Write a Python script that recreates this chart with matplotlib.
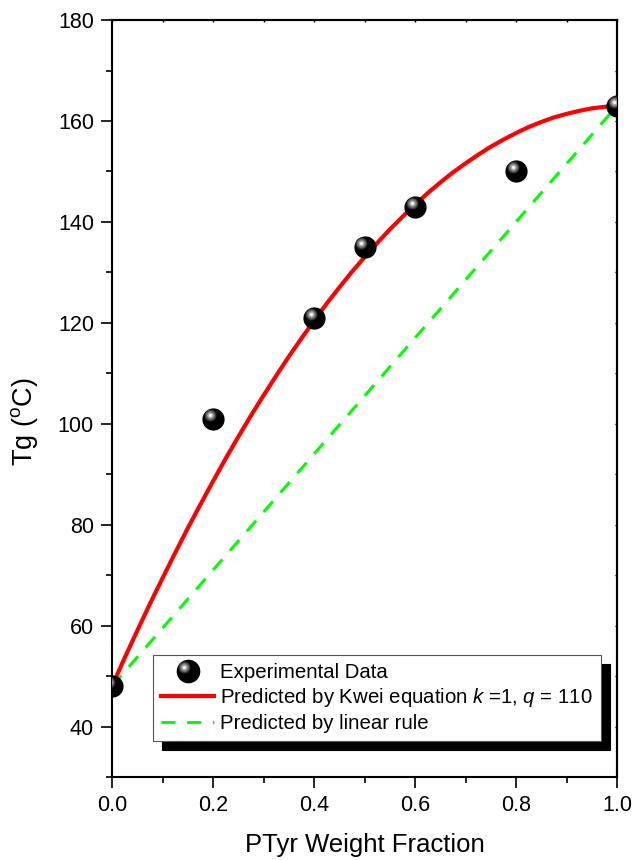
import numpy as np
import matplotlib
matplotlib.use("Agg")
import matplotlib.pyplot as plt
from matplotlib.lines import Line2D
from matplotlib.patches import Polygon
from matplotlib.legend_handler import HandlerBase
from matplotlib.transforms import ScaledTranslation
from matplotlib.ticker import MultipleLocator, FormatStrFormatter

plt.rcParams['font.family'] = ['Liberation Sans', 'DejaVu Sans']
plt.rcParams['mathtext.fontset'] = 'custom'
plt.rcParams['mathtext.rm'] = 'Liberation Sans'
plt.rcParams['mathtext.it'] = 'Liberation Sans:italic'

# Experimental data
exp_w = [0.0, 0.2, 0.4, 0.5, 0.6, 0.8, 1.0]
exp_tg = [48, 101, 121, 135, 143, 150, 163]

# Kwei prediction curve
kwei_w = [0.0, 0.025, 0.05, 0.075, 0.1, 0.125, 0.15, 0.175, 0.2, 0.225, 0.25,
          0.275, 0.3, 0.325, 0.35, 0.375, 0.4, 0.425, 0.45, 0.475, 0.5,
          0.525, 0.55, 0.575, 0.6, 0.625, 0.65, 0.675, 0.7, 0.725, 0.75,
          0.775, 0.8, 0.825, 0.85, 0.875, 0.9, 0.925, 0.95, 0.975, 1.0]
kwei_tg = [48.0, 53.6, 59.0, 64.3, 69.4, 74.4, 79.3, 84.0, 88.6, 93.1, 97.4,
           101.6, 105.6, 109.5, 113.3, 116.9, 120.4, 123.8, 127.0, 130.1, 133.0,
           135.8, 138.5, 141.0, 143.4, 145.7, 147.8, 149.8, 151.6, 153.3, 154.9,
           156.3, 157.6, 158.8, 159.8, 160.7, 161.4, 162.0, 162.5, 162.8, 163.0]

# Linear rule
lin_w = [0.0, 1.0]
lin_tg = [48, 163]

labels = ["Experimental Data",
          r"Predicted by Kwei equation $k$ =1, $q$ = 110",
          "Predicted by linear rule"]

fig = plt.figure(figsize=(6.34, 8.6), dpi=100)
ax = fig.add_axes([0.1767, 0.0965, 0.7965, 0.8802])

RED_LW = 3.0
GREEN_LW = 2.2
GREEN_DASH = (4.6, 3.8)

ax.plot(lin_w, lin_tg, color='#00FF00', lw=GREEN_LW, dashes=GREEN_DASH, zorder=2)
ax.plot(kwei_w, kwei_tg, color='#FF0000', lw=RED_LW, zorder=3, solid_capstyle='butt')

# clip region equal to the axes area
clip_poly = Polygon([[0, 0], [1, 0], [1, 1], [0, 1]], closed=True,
                    transform=ax.transAxes)

# sphere markers
MS = 16
sc = ax.scatter(exp_w, exp_tg, s=MS ** 2, color='black', linewidths=0, zorder=4)
sc.set_clip_path(clip_poly)
layers = [(8.5, '#3a3a3a'), (6.5, '#6e6e6e'), (4.5, '#a8a8a8'), (2.4, '#f2f2f2')]
hl_dx, hl_dy = -2.4, 3.0  # points
for s, c in layers:
    tr = ax.transData + ScaledTranslation(hl_dx / 72, hl_dy / 72, fig.dpi_scale_trans)
    h = ax.scatter(exp_w, exp_tg, s=s ** 2, color=c, linewidths=0, transform=tr, zorder=5)
    h.set_clip_path(clip_poly)


class SphereHandler(HandlerBase):
    def create_artists(self, legend, orig_handle, xdescent, ydescent,
                       width, height, fontsize, trans):
        cx = width / 2 - xdescent
        cy = height / 2 - ydescent
        arts = [Line2D([cx], [cy], ls='', marker='o', ms=MS, color='black',
                       mec='black', transform=trans)]
        for s, c in layers:
            arts.append(Line2D([cx + hl_dx], [cy + hl_dy], ls='', marker='o', ms=s,
                               color=c, mec='none', transform=trans))
        return arts


sphere_handle = Line2D([], [], ls='', marker='o', color='black')
red_handle = Line2D([], [], color='#FF0000', lw=RED_LW)
green_handle = Line2D([], [], color='#00FF00', lw=GREEN_LW, dashes=GREEN_DASH)

leg = ax.legend([sphere_handle, red_handle, green_handle], labels,
                handler_map={sphere_handle: SphereHandler()},
                loc='lower left', bbox_to_anchor=(0.081, 0.0476),
                borderaxespad=0, fontsize=14.7, frameon=True, fancybox=False,
                shadow={'ox': 6.5, 'oy': -6.5, 'color': 'black', 'alpha': 1},
                handlelength=2.6, handletextpad=0.3, labelspacing=0.22,
                borderpad=0.4)
leg.get_frame().set_edgecolor('#555555')
leg.get_frame().set_linewidth(0.8)
leg.set_zorder(10)

ax.set_xlim(0, 1.0)
ax.set_ylim(30, 180)
ax.xaxis.set_major_locator(MultipleLocator(0.2))
ax.xaxis.set_minor_locator(MultipleLocator(0.1))
ax.set_yticks([40, 60, 80, 100, 120, 140, 160, 180])
ax.yaxis.set_minor_locator(MultipleLocator(10))
ax.xaxis.set_major_formatter(FormatStrFormatter('%.1f'))

ax.tick_params(which='major', direction='out', length=8, width=1.2, labelsize=15.5, pad=5)
ax.tick_params(which='minor', direction='out', length=4.5, width=1.2)
for sp in ax.spines.values():
    sp.set_linewidth(1.5)

# tiny inward ticks on the top and right spines
sec_x = ax.secondary_xaxis('top')
sec_x.set_xticks(np.arange(0, 1.01, 0.1))
sec_x.tick_params(direction='in', length=1.5, width=1.0, labeltop=False)
sec_x.spines['top'].set_linewidth(1.5)
sec_y = ax.secondary_yaxis('right')
sec_y.set_yticks(np.arange(30, 181, 10))
sec_y.tick_params(direction='in', length=1.5, width=1.0, labelright=False)
sec_y.spines['right'].set_linewidth(1.5)

ax.set_xlabel('PTyr Weight Fraction', fontsize=18.5, labelpad=12)
ax.set_ylabel(r'Tg ($^{\mathrm{o}}$C)', fontsize=19.5)
ax.yaxis.set_label_coords(-0.142, 0.469)

fig.savefig('out.png', dpi=100)
